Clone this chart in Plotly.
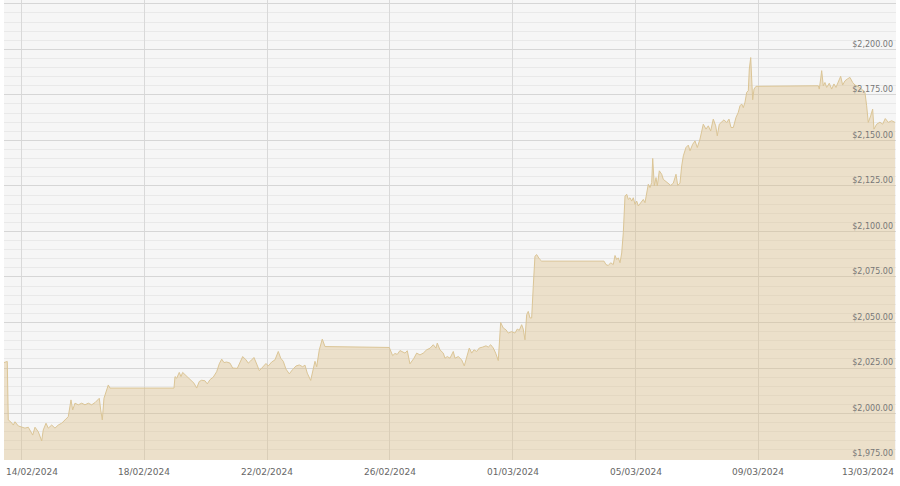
import plotly.graph_objects as go

# Gold spot price, intraday readings (USD per oz)
times = [
    "2024-02-13 10:10", "2024-02-13 12:44", "2024-02-13 13:31", "2024-02-13 15:24", "2024-02-13 17:26",
    "2024-02-13 18:45", "2024-02-13 21:20", "2024-02-14 00:00", "2024-02-14 02:34", "2024-02-14 05:10",
    "2024-02-14 08:36", "2024-02-14 10:24", "2024-02-14 12:59", "2024-02-14 15:38", "2024-02-14 16:53",
    "2024-02-14 19:01", "2024-02-14 20:48", "2024-02-14 23:28", "2024-02-15 02:02", "2024-02-15 04:37",
    "2024-02-15 07:16", "2024-02-15 09:52", "2024-02-15 12:26", "2024-02-15 14:33", "2024-02-15 15:53",
    "2024-02-15 17:41", "2024-02-15 20:15", "2024-02-15 22:56", "2024-02-16 01:30", "2024-02-16 04:05",
    "2024-02-16 06:44", "2024-02-16 09:19", "2024-02-16 12:41", "2024-02-16 13:47", "2024-02-16 15:02",
    "2024-02-16 16:21", "2024-02-16 18:28", "2024-02-16 19:43", "2024-02-16 21:02", "2024-02-18 23:06",
    "2024-02-18 23:53", "2024-02-19 01:12", "2024-02-19 03:14", "2024-02-19 04:33", "2024-02-19 05:53",
    "2024-02-19 07:41", "2024-02-19 10:16", "2024-02-19 12:56", "2024-02-19 14:43", "2024-02-19 16:50",
    "2024-02-19 18:52", "2024-02-19 20:44", "2024-02-19 23:20", "2024-02-20 01:08", "2024-02-20 03:14",
    "2024-02-20 05:49", "2024-02-20 08:28", "2024-02-20 10:31", "2024-02-20 12:24", "2024-02-20 14:11",
    "2024-02-20 16:18", "2024-02-20 18:53", "2024-02-20 20:59", "2024-02-21 00:35", "2024-02-21 02:42",
    "2024-02-21 04:49", "2024-02-21 07:23", "2024-02-21 09:11", "2024-02-21 11:04", "2024-02-21 13:38",
    "2024-02-21 15:46", "2024-02-21 17:48", "2024-02-21 19:08", "2024-02-21 20:55", "2024-02-21 23:02",
    "2024-02-22 00:50", "2024-02-22 03:29", "2024-02-22 06:05", "2024-02-22 08:39", "2024-02-22 10:32",
    "2024-02-22 12:33", "2024-02-22 14:40", "2024-02-22 17:16", "2024-02-22 19:54", "2024-02-22 22:30",
    "2024-02-23 01:04", "2024-02-23 03:44", "2024-02-23 05:31", "2024-02-23 07:19", "2024-02-23 09:59",
    "2024-02-23 12:01", "2024-02-23 13:21", "2024-02-23 14:41", "2024-02-23 16:43", "2024-02-23 19:04",
    "2024-02-23 21:10", "2024-02-25 23:27", "2024-02-26 00:32", "2024-02-26 02:06", "2024-02-26 03:53",
    "2024-02-26 05:42", "2024-02-26 07:49", "2024-02-26 11:43", "2024-02-26 13:31", "2024-02-26 15:37",
    "2024-02-26 18:46", "2024-02-26 20:52", "2024-02-26 23:27", "2024-02-27 02:02", "2024-02-27 04:41",
    "2024-02-27 07:17", "2024-02-27 09:51", "2024-02-27 11:58", "2024-02-27 12:59", "2024-02-27 15:05",
    "2024-02-27 17:41", "2024-02-27 19:00", "2024-02-27 20:48", "2024-02-27 22:55", "2024-02-28 01:30",
    "2024-02-28 02:49", "2024-02-28 05:25", "2024-02-28 08:03", "2024-02-28 10:06", "2024-02-28 11:59",
    "2024-02-28 14:01", "2024-02-28 15:53", "2024-02-28 17:41", "2024-02-28 19:48", "2024-02-28 21:50",
    "2024-02-29 00:29", "2024-02-29 03:04", "2024-02-29 04:52", "2024-02-29 06:44", "2024-02-29 08:47",
    "2024-02-29 10:39", "2024-02-29 12:41", "2024-02-29 14:33", "2024-02-29 16:35", "2024-02-29 18:42",
    "2024-02-29 20:29", "2024-02-29 23:10", "2024-03-01 01:43", "2024-03-01 03:32", "2024-03-01 05:06",
    "2024-03-01 06:58", "2024-03-01 08:13", "2024-03-01 09:33", "2024-03-01 10:53", "2024-03-01 12:08",
    "2024-03-01 13:28", "2024-03-01 14:47", "2024-03-01 16:03", "2024-03-01 17:22", "2024-03-01 18:42",
    "2024-03-01 20:45", "2024-03-01 22:36", "2024-03-03 23:22", "2024-03-04 00:55", "2024-03-04 02:43",
    "2024-03-04 04:36", "2024-03-04 06:37", "2024-03-04 07:58", "2024-03-04 09:18", "2024-03-04 10:33",
    "2024-03-04 11:53", "2024-03-04 13:12", "2024-03-04 14:27", "2024-03-04 15:47", "2024-03-04 17:08",
    "2024-03-04 18:22", "2024-03-04 19:41", "2024-03-04 21:02", "2024-03-04 22:16", "2024-03-04 23:36",
    "2024-03-05 00:56", "2024-03-05 02:11", "2024-03-05 04:03", "2024-03-05 06:06", "2024-03-05 07:25",
    "2024-03-05 08:45", "2024-03-05 10:00", "2024-03-05 11:20", "2024-03-05 12:39", "2024-03-05 13:27",
    "2024-03-05 14:42", "2024-03-05 16:02", "2024-03-05 17:03", "2024-03-05 18:36", "2024-03-05 20:29",
    "2024-03-05 21:44", "2024-03-05 23:50", "2024-03-06 01:38", "2024-03-06 03:31", "2024-03-06 05:33",
    "2024-03-06 07:40", "2024-03-06 09:00", "2024-03-06 10:47", "2024-03-06 12:07", "2024-03-06 13:23",
    "2024-03-06 15:28", "2024-03-06 17:17", "2024-03-06 18:37", "2024-03-06 20:43", "2024-03-06 22:31",
    "2024-03-07 00:19", "2024-03-07 02:25", "2024-03-07 03:45", "2024-03-07 05:00", "2024-03-07 07:07",
    "2024-03-07 08:55", "2024-03-07 10:47", "2024-03-07 12:49", "2024-03-07 14:42", "2024-03-07 15:57",
    "2024-03-07 17:31", "2024-03-07 19:23", "2024-03-07 21:11", "2024-03-07 23:18", "2024-03-08 01:06",
    "2024-03-08 02:40", "2024-03-08 04:28", "2024-03-08 06:34", "2024-03-08 08:22", "2024-03-08 09:42",
    "2024-03-08 11:03", "2024-03-08 12:18", "2024-03-08 13:37", "2024-03-08 14:57", "2024-03-08 16:12",
    "2024-03-08 16:59", "2024-03-08 18:05", "2024-03-08 18:51", "2024-03-08 19:38", "2024-03-08 20:40",
    "2024-03-08 22:14", "2024-03-10 22:56", "2024-03-10 23:42", "2024-03-11 00:47", "2024-03-11 01:35",
    "2024-03-11 02:50", "2024-03-11 04:09", "2024-03-11 05:29", "2024-03-11 07:31", "2024-03-11 09:23",
    "2024-03-11 11:11", "2024-03-11 12:45", "2024-03-11 14:32", "2024-03-11 16:26", "2024-03-11 17:59",
    "2024-03-11 19:47", "2024-03-11 21:35", "2024-03-11 23:42", "2024-03-12 01:48", "2024-03-12 03:36",
    "2024-03-12 07:31", "2024-03-12 11:25", "2024-03-12 12:45", "2024-03-12 14:01", "2024-03-12 15:53",
    "2024-03-12 17:27", "2024-03-12 18:28", "2024-03-12 20:34", "2024-03-12 23:09", "2024-03-13 01:16",
    "2024-03-13 03:19", "2024-03-13 05:39", "2024-03-13 08:19", "2024-03-13 10:54",
]

prices = [
    2028.0, 2028.6, 1996.5, 1995.5, 1993.7, 1995.5, 1993.2, 1992.5, 1992.0, 1992.5,
    1988.2, 1992.5, 1990.0, 1985.0, 1991.0, 1994.7, 1992.0, 1993.7, 1992.0, 1993.7,
    1994.7, 1996.5, 1998.3, 2007.5, 2002.0, 2005.7, 2004.8, 2005.7, 2004.8, 2005.7,
    2004.8, 2006.0, 2008.4, 2002.0, 1996.5, 2008.4, 2013.0, 2015.7, 2014.0, 2014.0,
    2020.3, 2019.4, 2022.6, 2020.3, 2022.6, 2021.4, 2019.4, 2017.6, 2016.7, 2014.0,
    2017.6, 2018.3, 2018.0, 2016.3, 2018.6, 2020.0, 2023.0, 2027.3, 2029.9, 2028.0,
    2028.3, 2027.7, 2025.0, 2024.8, 2027.7, 2031.3, 2029.5, 2027.7, 2028.9, 2030.8,
    2027.2, 2023.6, 2024.5, 2026.1, 2027.5, 2026.1, 2028.3, 2029.5, 2034.1, 2030.4,
    2028.7, 2024.4, 2021.8, 2024.2, 2026.1, 2026.7, 2025.7, 2026.6, 2022.2, 2018.2,
    2025.7, 2028.7, 2025.7, 2035.0, 2040.9, 2036.8, 2036.3, 2034.1, 2031.8, 2033.0,
    2032.5, 2034.6, 2033.2, 2034.5, 2027.3, 2030.4, 2033.2, 2032.2, 2033.2, 2035.0,
    2035.9, 2037.8, 2035.9, 2038.7, 2035.0, 2033.2, 2030.4, 2031.3, 2030.4, 2034.1,
    2030.4, 2031.3, 2029.5, 2026.2, 2030.4, 2036.0, 2033.2, 2035.0, 2034.1, 2036.0,
    2036.5, 2037.2, 2036.5, 2037.8, 2036.0, 2033.2, 2029.1, 2050.0, 2047.0, 2046.0,
    2044.2, 2045.0, 2044.2, 2046.4, 2045.7, 2048.8, 2046.4, 2040.5, 2054.3, 2056.1,
    2052.5, 2052.5, 2069.9, 2086.4, 2087.3, 2085.0, 2083.7, 2083.7, 2081.8, 2081.3,
    2082.8, 2081.8, 2086.8, 2084.6, 2085.5, 2082.8, 2088.2, 2099.3, 2119.5, 2120.4,
    2117.6, 2118.5, 2116.7, 2118.5, 2114.9, 2116.7, 2114.0, 2115.8, 2117.6, 2115.8,
    2122.3, 2125.9, 2124.1, 2126.8, 2140.1, 2125.0, 2129.6, 2125.0, 2133.3, 2131.4,
    2128.6, 2127.2, 2126.5, 2125.3, 2126.5, 2131.4, 2125.3, 2126.5, 2136.0, 2141.5,
    2146.1, 2147.4, 2144.3, 2147.9, 2149.7, 2146.1, 2150.7, 2155.2, 2158.9, 2156.2,
    2158.0, 2155.2, 2161.7, 2158.0, 2152.5, 2158.9, 2160.2, 2161.3, 2159.8, 2161.7,
    2157.1, 2157.1, 2162.6, 2165.4, 2169.0, 2170.0, 2168.0, 2171.0, 2176.4, 2177.3,
    2189.2, 2195.5, 2183.7, 2172.3, 2178.2, 2179.7, 2180.0, 2178.2, 2183.7, 2188.3,
    2180.0, 2181.8, 2179.1, 2181.4, 2178.2, 2181.0, 2179.1, 2181.8, 2185.2, 2180.4,
    2182.7, 2183.7, 2184.6, 2181.8, 2180.4, 2179.0, 2176.4, 2169.0, 2159.9, 2163.5,
    2167.2, 2156.2, 2158.9, 2160.0, 2158.9, 2162.0, 2159.9, 2160.8, 2159.9,
]

x_range = ["2024-02-13 10:10", "2024-03-13 11:42"]
y_range = [1974.5, 2227.1]
tick_dates = ["2024-02-14", "2024-02-18", "2024-02-22", "2024-02-26",
              "2024-03-01", "2024-03-05", "2024-03-09", "2024-03-13"]
tick_labels = ["14/02/2024", "18/02/2024", "22/02/2024", "26/02/2024",
               "01/03/2024", "05/03/2024", "09/03/2024", "13/03/2024"]

line_color = "#dbc596"
fill_color = "rgba(220,187,125,0.36)"

fig = go.Figure()

fig.add_trace(
    go.Scatter(
        x=times,
        y=prices,
        mode="lines",
        line=dict(color=line_color, width=1),
        fill="tozeroy",
        fillcolor=fill_color,
        hoverinfo="skip",
        showlegend=False,
    )
)

fig.update_xaxes(
    type="date",
    range=x_range,
    tickmode="array",
    tickvals=tick_dates,
    showticklabels=False,
    showgrid=True,
    gridcolor="#d9d9d9",
    gridwidth=1,
    zeroline=False,
    showline=False,
)

fig.update_yaxes(
    range=y_range,
    side="right",
    tick0=1975,
    dtick=25,
    tickprefix="$",
    tickformat=",.2f",
    ticklabelposition="inside top",
    tickfont=dict(family="DejaVu Sans", size=8, color="#777777"),
    showgrid=True,
    gridcolor="#d6d6d6",
    gridwidth=1,
    minor=dict(dtick=5, showgrid=True, gridcolor="#e9e9e9", gridwidth=1),
    zeroline=False,
    showline=False,
)

# date labels below the plot, edge ones kept inside the frame
for i, (d, lab) in enumerate(zip(tick_dates, tick_labels)):
    if i == 0:
        xpos, anchor = x_range[0], "left"
    elif i == len(tick_dates) - 1:
        xpos, anchor = x_range[1], "right"
    else:
        xpos, anchor = d, "center"
    fig.add_annotation(
        x=xpos,
        xref="x",
        y=0,
        yref="paper",
        yanchor="top",
        xanchor=anchor,
        yshift=-5,
        text=lab,
        showarrow=False,
        font=dict(family="DejaVu Sans", size=9, color="#666666"),
    )

fig.update_layout(
    width=900,
    height=486,
    margin=dict(l=4, r=4, t=0, b=26),
    paper_bgcolor="white",
    plot_bgcolor="#f6f6f6",
    font_family="DejaVu Sans",
)

# page body has a default margin; drop it so the figure sits at the window corner
fig.write_html(
    "out.html",
    config={"displayModeBar": False},
    post_script="document.body.style.margin='0';",
)
